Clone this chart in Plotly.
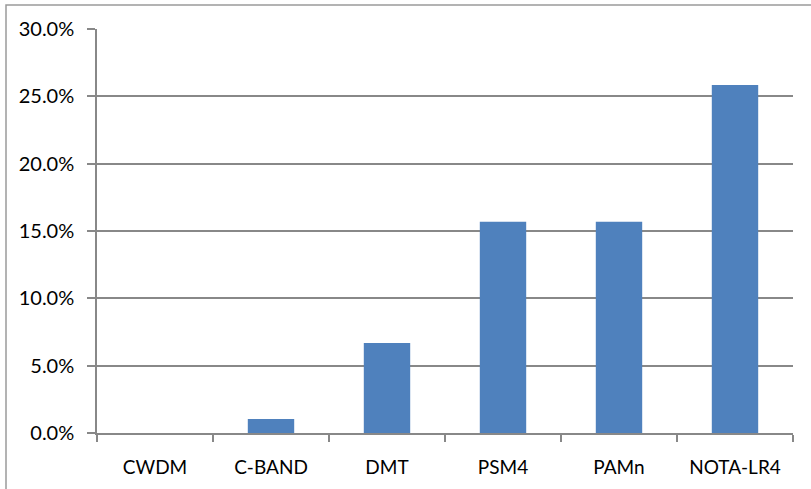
import plotly.graph_objects as go

categories = ["CWDM", "C-BAND", "DMT", "PSM4", "PAMn", "NOTA-LR4"]
values = [0.0, 0.0104, 0.0668, 0.1568, 0.1568, 0.2584]
y_ticks = [0.0, 0.05, 0.10, 0.15, 0.20, 0.25, 0.30]
y_tick_labels = ["0.0%", "5.0%", "10.0%", "15.0%", "20.0%", "25.0%", "30.0%"]

W, H = 811, 489
ml, mr, mt, mb = 97, 18, 29, 56
pw, ph = W - ml - mr, H - mt - mb

fig = go.Figure(go.Bar(
    x=categories, y=values,
    marker=dict(color="#4F81BD", line=dict(width=0)),
))

# outer chart border (left at x=6, top at y=5; extends beyond right/bottom edges)
bx0, bx1, by0, by1 = 6, W + 5, 5, H + 5
fig.update_layout(
    width=W, height=H,
    margin=dict(l=ml, r=mr, t=mt, b=mb),
    paper_bgcolor="white", plot_bgcolor="white",
    font=dict(family="Lato, Open Sans, sans-serif", size=19, color="#000000"),
    bargap=0.6,
    showlegend=False,
    shapes=[dict(
        type="rect", xref="paper", yref="paper",
        x0=(bx0 - ml) / pw, x1=(bx1 - ml) / pw,
        y0=(H - mb - by1) / ph, y1=(H - mb - by0) / ph,
        line=dict(color="#9A9A9A", width=1.5), fillcolor="rgba(0,0,0,0)",
        layer="below",
    )],
)

fig.update_xaxes(
    type="category",
    showline=True, linecolor="#888888", linewidth=1.5,
    ticks="outside", tickson="boundaries", ticklen=7, tickcolor="#888888", tickwidth=1.5,
    showgrid=False, ticklabelstandoff=16,
)
fig.update_yaxes(
    range=[0, 0.30],
    tickvals=y_ticks, ticktext=y_tick_labels,
    tickfont=dict(size=20),
    showline=True, linecolor="#888888", linewidth=1.5,
    ticks="outside", ticklen=8, tickcolor="#888888", tickwidth=1.5,
    showgrid=True, gridcolor="#888888", gridwidth=1.5,
    zeroline=False, ticklabelstandoff=9,
)

fig.write_html(
    "out.html",
    config={"displayModeBar": False},
    post_script="document.body.style.margin='0';document.body.style.padding='0';",
)
